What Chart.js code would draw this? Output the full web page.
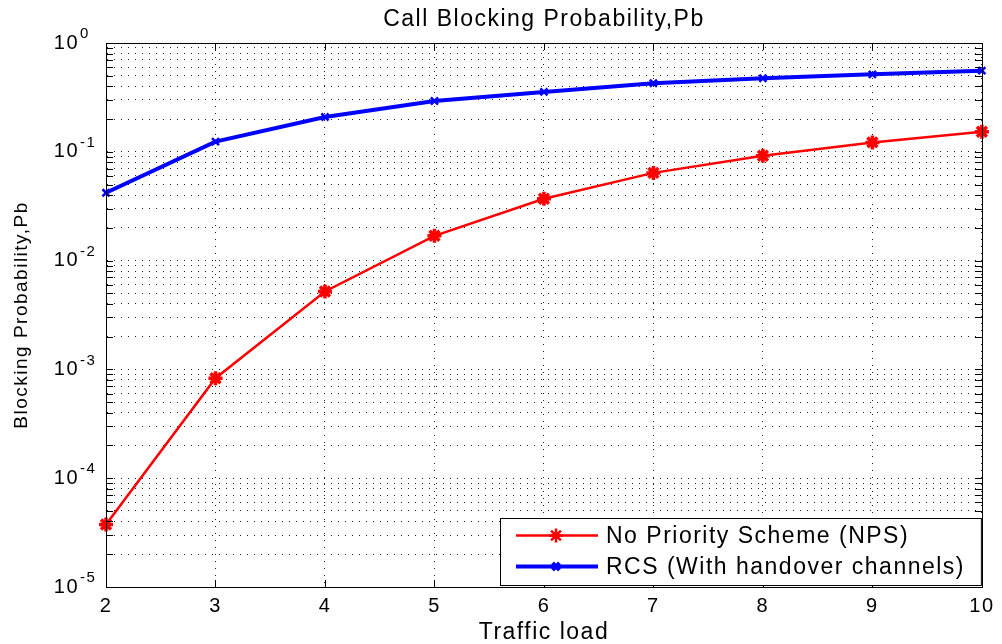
<!DOCTYPE html>
<html>
<head>
<meta charset="utf-8">
<script src="https://cdn.jsdelivr.net/npm/chart.js@4/dist/chart.umd.min.js"></script>
<style>
  html, body { margin: 0; padding: 0; background: #fff; }
  #wrap { width: 1002px; height: 644px; position: relative; }
</style>
</head>
<body>
<div id="wrap"><canvas id="c" width="1002" height="644"></canvas></div>
<script>
// ---- data ----
const trafficLoad = [2, 3, 4, 5, 6, 7, 8, 9, 10];
const npsValues = [3.75e-5, 8.3e-4, 5.2e-3, 1.69e-2, 3.7e-2, 6.4e-2, 9.2e-2, 1.22e-1, 1.53e-1];
const rcsValues = [4.2e-2, 1.24e-1, 2.09e-1, 2.93e-1, 3.55e-1, 4.27e-1, 4.74e-1, 5.15e-1, 5.57e-1];
const seriesLabels = ['No Priority Scheme (NPS)', 'RCS (With handover channels)'];
const decadeExponents = [-5, -4, -3, -2, -1, 0];
const chartTitle = 'Call Blocking Probability,Pb';
const xTitle = 'Traffic load';
const yTitle = 'Blocking Probability,Pb';

const FONT = 'Liberation Sans, Arial, Helvetica, sans-serif';
const SPACING = '1.5px';

const toPoints = (xs, ys) => xs.map((x, i) => ({ x: x, y: ys[i] }));

const spacingPlugin = {
  id: 'spacing',
  beforeLayout(chart) { chart.ctx.letterSpacing = SPACING; },
  beforeDraw(chart) { chart.ctx.letterSpacing = SPACING; }
};

const decorPlugin = {
  id: 'decor',
  afterDraw(chart) {
    const ctx = chart.ctx;
    const a = chart.chartArea;
    const xs = chart.scales.x, ys = chart.scales.y;
    ctx.save();
    ctx.letterSpacing = SPACING;
    // box
    ctx.strokeStyle = '#000';
    ctx.lineWidth = 1;
    ctx.setLineDash([]);
    ctx.strokeRect(Math.round(a.left) + 0.5, Math.round(a.top) + 0.5,
                   Math.round(a.right - a.left), Math.round(a.bottom - a.top));
    // inward ticks
    ctx.beginPath();
    ys.ticks.forEach(t => {
      const y = Math.round(ys.getPixelForValue(t.value)) + 0.5;
      ctx.moveTo(a.left, y); ctx.lineTo(a.left + 7, y);
      ctx.moveTo(a.right, y); ctx.lineTo(a.right - 7, y);
    });
    xs.ticks.forEach(t => {
      const x = Math.round(xs.getPixelForValue(t.value)) + 0.5;
      ctx.moveTo(x, a.bottom); ctx.lineTo(x, a.bottom - 7);
      ctx.moveTo(x, a.top); ctx.lineTo(x, a.top + 7);
    });
    ctx.stroke();
    // y tick labels 10^n
    ctx.fillStyle = '#000';
    decadeExponents.forEach(e => {
      const y = ys.getPixelForValue(Math.pow(10, e));
      ctx.font = '20px ' + FONT;
      ctx.textAlign = 'right';
      ctx.textBaseline = 'middle';
      ctx.fillText('10', a.left - 27, y);
      ctx.font = '15px ' + FONT;
      ctx.textAlign = 'left';
      ctx.fillText(e === 0 ? '0' : '-' + Math.abs(e), a.left - 26, y - 9);
    });
    // legend
    const lx1 = 500, ly1 = 518, lx2 = a.right, ly2 = 585;
    ctx.fillStyle = '#fff';
    ctx.fillRect(lx1, ly1, lx2 - lx1, ly2 - ly1);
    ctx.strokeStyle = '#000';
    ctx.lineWidth = 1;
    ctx.strokeRect(lx1 + 0.5, ly1 + 0.5, lx2 - lx1 - 1, ly2 - ly1);
    const rowsY = [535.5, 566.5];
    chart.data.datasets.forEach((ds, i) => {
      const y = rowsY[i];
      ctx.strokeStyle = ds.borderColor;
      ctx.lineWidth = ds.borderWidth;
      ctx.beginPath();
      ctx.moveTo(516, y); ctx.lineTo(598, y);
      ctx.stroke();
      ctx.fillStyle = ds.pointBackgroundColor;
      ctx.strokeStyle = ds.pointBorderColor;
      Chart.helpers.drawPoint(ctx, {
        pointStyle: ds.pointStyle, radius: ds.pointRadius,
        borderWidth: ds.pointBorderWidth, rotation: 0
      }, 556, y);
      ctx.fillStyle = '#000';
      ctx.font = '23px ' + FONT;
      ctx.textAlign = 'left';
      ctx.textBaseline = 'middle';
      ctx.fillText(ds.label, 606, y + 1);
    });
    ctx.restore();
  }
};

new Chart(document.getElementById('c'), {
  type: 'line',
  data: {
    datasets: [
      {
        label: seriesLabels[0],
        data: toPoints(trafficLoad, npsValues),
        borderColor: '#ff0000', backgroundColor: '#ff0000',
        borderWidth: 2.5,
        pointStyle: 'star', pointRadius: 7, pointBorderWidth: 3.5,
        pointBackgroundColor: '#ff0000', pointBorderColor: '#ff0000',
        pointHoverRadius: 7,
        tension: 0, clip: false
      },
      {
        label: seriesLabels[1],
        data: toPoints(trafficLoad, rcsValues),
        borderColor: '#0000ff', backgroundColor: '#0000ff',
        borderWidth: 4,
        pointStyle: 'crossRot', pointRadius: 5, pointBorderWidth: 2.5,
        pointBackgroundColor: '#0000ff', pointBorderColor: '#0000ff',
        pointHoverRadius: 5,
        tension: 0, clip: false
      }
    ]
  },
  options: {
    responsive: false,
    animation: false,
    events: [],
    layout: { padding: { left: 0, right: 14, top: 0, bottom: 0 } },
    plugins: {
      legend: { display: false },
      tooltip: { enabled: false },
      title: {
        display: true, text: chartTitle, fullSize: false,
        color: '#000',
        font: { family: FONT, size: 23, weight: 'normal', lineHeight: 1.2 },
        padding: { top: 6, bottom: 9.4 }
      }
    },
    scales: {
      x: {
        type: 'linear', min: 2, max: 10,
        ticks: { stepSize: 1, color: '#000', padding: 7.5,
                 font: { family: FONT, size: 20, lineHeight: 1.2 } },
        grid: { color: '#222', lineWidth: 1, drawTicks: false },
        border: { display: true, color: '#000', width: 1, dash: [1, 6] },
        title: { display: true, text: xTitle, color: '#000',
                 font: { family: FONT, size: 23, lineHeight: 1 },
                 padding: { top: 0, bottom: 0 } },
        afterFit(scale) { scale.height = 57; }
      },
      y: {
        type: 'logarithmic', min: 1e-5, max: 1,
        afterBuildTicks(scale) {
          const t = [];
          decadeExponents.forEach(e => {
            if (e === 0) { t.push({ value: 1, major: true }); return; }
            for (let k = 1; k <= 9; k++) t.push({ value: k * Math.pow(10, e), major: k === 1 });
          });
          scale.ticks = t;
        },
        ticks: { display: false },
        grid: { color: '#222', lineWidth: 1, drawTicks: false },
        border: { display: true, color: '#000', width: 1, dash: [1, 6] },
        title: { display: true, text: yTitle, color: '#000',
                 font: { family: FONT, size: 19, lineHeight: 1.2 },
                 padding: { top: 10, bottom: 0 } },
        afterFit(scale) { scale.width = 106; }
      }
    }
  },
  plugins: [spacingPlugin, decorPlugin]
});
</script>
</body>
</html>
